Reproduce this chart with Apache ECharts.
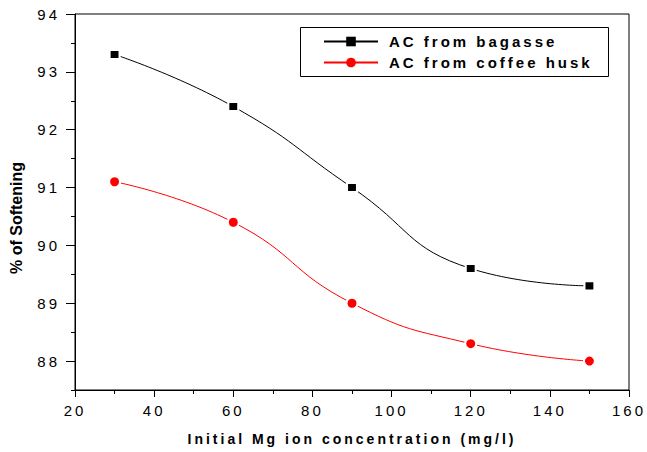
<!DOCTYPE html>
<html>
<head>
<meta charset="utf-8">
<script src="https://cdn.jsdelivr.net/npm/echarts@6/dist/echarts.min.js"></script>
<style>
html,body{margin:0;padding:0;background:#fff;}
#chart{width:647px;height:452px;}
#chart text{letter-spacing:3px;}
#chart text[style*="16px"]{letter-spacing:0;}
</style>
</head>
<body>
<div id="chart"></div>
<script>
const xValues = [30, 60, 90, 120, 150];
const bagasse = [93.3, 92.4, 91.0, 89.6, 89.3];
const coffeeHusk = [91.1, 90.4, 89.0, 88.3, 88.0];
const seriesNames = ['AC from bagasse', 'AC from coffee husk'];
const xTitle = 'Initial Mg ion concentration (mg/l)';
const yTitle = '% of Softening';

const FONT = 'Liberation Sans, Arial, sans-serif';
const gTop = 14, gBottom = 62, gH = 452 - gTop - gBottom;
const yMin = 87.5, yMax = 94;
const gBottom2 = gBottom + (88 - yMin) * gH / (yMax - yMin);

const chart = echarts.init(document.getElementById('chart'), null, {renderer: 'svg'});
chart.setOption({
  animation: false,
  backgroundColor: '#fff',
  grid: [
    {left: 74, right: 18, top: gTop, bottom: gBottom, show: true, borderColor: '#000', borderWidth: 1, backgroundColor: 'transparent'},
    {left: 74, right: 18, top: gTop, bottom: gBottom2}
  ],
  xAxis: [
    {
      type: 'value', gridIndex: 0, min: 20, max: 160, interval: 20,
      axisLine: {lineStyle: {color: '#000', width: 1}},
      axisTick: {length: 7, lineStyle: {color: '#000', width: 1}},
      minorTick: {show: true, splitNumber: 2, length: 4, lineStyle: {color: '#000', width: 1}},
      splitLine: {show: false},
      axisLabel: {fontSize: 15, color: '#000', margin: 13, fontFamily: FONT},
      name: xTitle, nameLocation: 'middle', nameGap: 42,
      nameTextStyle: {fontSize: 14, fontWeight: 'bold', color: '#000', fontFamily: FONT}
    },
    {type: 'value', gridIndex: 1, min: 20, max: 160, show: false}
  ],
  yAxis: [
    {
      type: 'value', gridIndex: 0, min: yMin, max: yMax, interval: 0.5,
      axisLine: {show: true, lineStyle: {color: '#000', width: 1}},
      axisTick: {show: true, length: 4, lineStyle: {color: '#000', width: 1}},
      axisLabel: {show: false},
      splitLine: {show: false},
      name: yTitle, nameLocation: 'middle', nameGap: 51,
      nameTextStyle: {fontSize: 16, fontWeight: 'bold', color: '#000', fontFamily: FONT, padding: [0, 32, 0, 0]}
    },
    {
      type: 'value', gridIndex: 1, min: 88, max: 94, interval: 1,
      axisLine: {show: false},
      axisTick: {show: true, length: 8, lineStyle: {color: '#000', width: 1}},
      axisLabel: {fontSize: 15, color: '#000', margin: 14, fontFamily: FONT},
      splitLine: {show: false}
    }
  ],
  legend: {
    orient: 'vertical', left: 318, top: 29,
    itemWidth: 54, itemHeight: 12, itemGap: 6,
    data: seriesNames,
    itemStyle: {borderWidth: 0},
    textStyle: {fontSize: 15, fontWeight: 'bold', color: '#000', fontFamily: FONT, padding: [0, 0, 0, 6]}
  },
  graphic: [
    {type: 'rect', shape: {x: 300.5, y: 27.5, width: 308, height: 49}, style: {fill: 'none', stroke: '#000', lineWidth: 1}, silent: true}
  ],
  series: [
    {
      name: seriesNames[0], type: 'line', xAxisIndex: 0, yAxisIndex: 0,
      data: xValues.map((x, i) => [x, bagasse[i]]),
      smooth: 0.5,
      symbol: 'rect', symbolSize: [10, 9],
      lineStyle: {color: '#000', width: 1},
      itemStyle: {color: '#000', borderColor: '#fff', borderWidth: 2}
    },
    {
      name: seriesNames[1], type: 'line', xAxisIndex: 0, yAxisIndex: 0,
      data: xValues.map((x, i) => [x, coffeeHusk[i]]),
      smooth: 0.5,
      symbol: 'circle', symbolSize: 11,
      lineStyle: {color: '#ff0000', width: 1},
      itemStyle: {color: '#ff0000', borderColor: '#fff', borderWidth: 2}
    }
  ]
});
</script>
</body>
</html>
